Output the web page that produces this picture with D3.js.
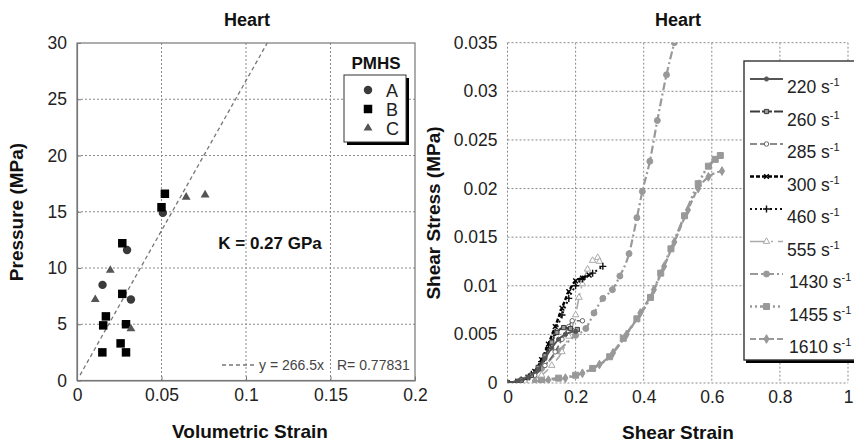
<!DOCTYPE html>
<html><head><meta charset="utf-8">
<script src="https://cdn.jsdelivr.net/npm/d3@7"></script>
<style>
body{margin:0;background:#fff}
svg{display:block;font-family:"Liberation Sans",Arial,Helvetica,sans-serif}
</style>
</head><body>
<svg id="chart" width="854" height="442"></svg>
<script>
// ---- Left panel: pressure vs volumetric strain (PMHS A, B, C) ----
const pmhsAStrain   = [0.0508, 0.0296, 0.0151, 0.0319];
const pmhsAPressure = [14.9, 11.6, 8.5, 7.2];
const pmhsBStrain   = [0.0520, 0.0500, 0.0268, 0.0268, 0.0171, 0.0155, 0.0290, 0.0258, 0.0290, 0.0150];
const pmhsBPressure = [16.6, 15.4, 12.2, 7.7, 5.7, 4.9, 5.0, 3.3, 2.5, 2.5];
const pmhsCStrain   = [0.0646, 0.0758, 0.0197, 0.0108, 0.0319];
const pmhsCPressure = [16.3, 16.5, 9.8, 7.2, 4.6];
const fitSlope = 266.5;
const fitR = 0.77831;
const volTicks = [0, 0.05, 0.1, 0.15, 0.2];
const volTickLabels = ["0", "0.05", "0.1", "0.15", "0.2"];
const pressTicks = [0, 5, 10, 15, 20, 25, 30];
const pmhsNames = ["A", "B", "C"];

// ---- Right panel: shear stress vs shear strain per strain rate ----
const rateNames = ["220", "260", "285", "300", "460", "555", "1430", "1455", "1610"];
const strain220 = [0, 0.03, 0.06, 0.09, 0.11, 0.13, 0.15, 0.17, 0.20];
const stress220 = [0, 0.0002, 0.0006, 0.0014, 0.0025, 0.0036, 0.0045, 0.0050, 0.0053];
const strain260 = [0, 0.04, 0.07, 0.09, 0.11, 0.13, 0.145, 0.165, 0.185, 0.205];
const stress260 = [0, 0.0003, 0.0008, 0.0016, 0.0028, 0.0042, 0.0052, 0.0057, 0.0056, 0.0055];
const strain285 = [0, 0.04, 0.08, 0.11, 0.14, 0.16, 0.18, 0.19, 0.22];
const stress285 = [0, 0.0002, 0.0008, 0.0018, 0.0032, 0.0045, 0.0058, 0.0064, 0.0064];
const strain300 = [0, 0.03, 0.06, 0.08, 0.10, 0.12, 0.14, 0.16, 0.18, 0.20, 0.22, 0.24];
const stress300 = [0, 0.0002, 0.0006, 0.0012, 0.0024, 0.0040, 0.0058, 0.0077, 0.0094, 0.0105, 0.0108, 0.0111];
const strain460 = [0, 0.04, 0.07, 0.10, 0.12, 0.14, 0.16, 0.18, 0.20, 0.22, 0.25, 0.28];
const stress460 = [0, 0.0003, 0.0009, 0.0022, 0.0036, 0.0052, 0.0070, 0.0087, 0.0100, 0.0107, 0.0113, 0.0120];
const strain555 = [0, 0.05, 0.10, 0.13, 0.16, 0.18, 0.20, 0.21, 0.22, 0.235, 0.25, 0.265, 0.27];
const stress555 = [0, 0.0002, 0.0008, 0.0018, 0.0032, 0.0048, 0.0070, 0.0088, 0.0102, 0.0117, 0.0126, 0.0129, 0.0125];
const strain1430 = [0, 0.05, 0.10, 0.15, 0.20, 0.23, 0.254, 0.28, 0.308, 0.33, 0.357, 0.38, 0.396, 0.418, 0.44, 0.467, 0.49];
const stress1430 = [0, 0.0003, 0.0015, 0.0033, 0.0049, 0.0056, 0.0072, 0.0087, 0.0096, 0.0110, 0.0133, 0.0170, 0.0197, 0.0228, 0.0270, 0.0317, 0.0350];
const strain1455 = [0.10, 0.15, 0.20, 0.25, 0.30, 0.34, 0.38, 0.42, 0.45, 0.48, 0.52, 0.56, 0.59, 0.61, 0.625];
const stress1455 = [0.0003, 0.0005, 0.0008, 0.0015, 0.0027, 0.0046, 0.0066, 0.0088, 0.0113, 0.0138, 0.0172, 0.0205, 0.0223, 0.0230, 0.0234];
const strain1610 = [0.08, 0.12, 0.17, 0.22, 0.27, 0.31, 0.35, 0.39, 0.43, 0.46, 0.49, 0.53, 0.56, 0.59, 0.63];
const stress1610 = [0.0002, 0.0003, 0.0005, 0.0010, 0.0019, 0.0031, 0.0050, 0.0072, 0.0096, 0.0120, 0.0145, 0.0178, 0.0200, 0.0212, 0.0218];
const shearStrainTicks = [0, 0.2, 0.4, 0.6, 0.8, 1];
const shearStrainTickLabels = ["0", "0.2", "0.4", "0.6", "0.8", "1"];
const shearStressTicks = [0, 0.005, 0.01, 0.015, 0.02, 0.025, 0.03, 0.035];
const shearStressTickLabels = ["0", "0.005", "0.01", "0.015", "0.02", "0.025", "0.03", "0.035"];

const svg = d3.select("#chart");
const zip = (xs, ys) => xs.map((x, i) => [x, ys[i]]);
const TICK_FONT = 17.5;

// ================= Left panel =================
const L = {left: 77, right: 415, top: 43, bottom: 380.5};
const xL = d3.scaleLinear().domain([0, 0.2]).range([L.left, L.right]);
const yL = d3.scaleLinear().domain([0, 30]).range([L.bottom, L.top]);
const gL = svg.append("g");

// dotted grid
gL.append("g").selectAll("line").data(volTicks.slice(1, -1)).join("line")
  .attr("x1", d => xL(d)).attr("x2", d => xL(d)).attr("y1", L.top).attr("y2", L.bottom)
  .attr("stroke", "#8a8a8a").attr("stroke-width", 1).attr("stroke-dasharray", "2,2");
gL.append("g").selectAll("line").data(pressTicks.slice(1, -1)).join("line")
  .attr("y1", d => yL(d)).attr("y2", d => yL(d)).attr("x1", L.left).attr("x2", L.right)
  .attr("stroke", "#8a8a8a").attr("stroke-width", 1).attr("stroke-dasharray", "2,2");
// frame
gL.append("rect").attr("x", L.left).attr("y", L.top)
  .attr("width", L.right - L.left).attr("height", L.bottom - L.top)
  .attr("fill", "none").attr("stroke", "#777").attr("stroke-width", 1.2);

// axes
const axLX = d3.axisBottom(xL).tickValues(volTicks).tickFormat((d, i) => volTickLabels[i])
  .tickSizeInner(-4).tickSizeOuter(0).tickPadding(8);
const axLY = d3.axisLeft(yL).tickValues(pressTicks).tickFormat(d3.format("d"))
  .tickSizeInner(-4).tickSizeOuter(0).tickPadding(10);
[gL.append("g").attr("transform", `translate(0,${L.bottom})`).call(axLX),
 gL.append("g").attr("transform", `translate(${L.left},0)`).call(axLY)].forEach(a => {
  a.select(".domain").attr("stroke", "#777").attr("stroke-width", 1.2);
  a.selectAll(".tick line").attr("stroke", "#777");
  a.selectAll(".tick text").attr("font-size", TICK_FONT).attr("fill", "#222")
    .attr("font-family", '"Liberation Sans",Arial,sans-serif');
});

// fit line y = 266.5 x
const fitX = [0.0018, 30 / fitSlope];
gL.append("line")
  .attr("x1", xL(fitX[0])).attr("y1", yL(fitSlope * fitX[0]))
  .attr("x2", xL(fitX[1])).attr("y2", yL(fitSlope * fitX[1]))
  .attr("stroke", "#777").attr("stroke-width", 1.3).attr("stroke-dasharray", "4,3");

// markers
const symCircle = d3.symbol().type(d3.symbolCircle).size(56);
const symSquare = d3.symbol().type(d3.symbolSquare).size(72);
const symTri = d3.symbol().type(d3.symbolTriangle).size(34);
function plotPts(xs, ys, sym, fill) {
  gL.append("g").selectAll("path").data(zip(xs, ys)).join("path")
    .attr("transform", d => `translate(${xL(d[0])},${yL(d[1])})`)
    .attr("d", sym).attr("fill", fill);
}
plotPts(pmhsAStrain, pmhsAPressure, symCircle, "#3a3a3a");
plotPts(pmhsBStrain, pmhsBPressure, symSquare, "#000");
plotPts(pmhsCStrain, pmhsCPressure, symTri, "#555");

// annotations
gL.append("text").attr("x", 270).attr("y", 249).attr("text-anchor", "middle")
  .attr("font-size", 17).attr("font-weight", "bold").attr("fill", "#111").text("K = 0.27 GPa");
gL.append("line").attr("x1", 222).attr("x2", 257).attr("y1", 365).attr("y2", 365)
  .attr("stroke", "#777").attr("stroke-width", 1.3).attr("stroke-dasharray", "4,3");
gL.append("text").attr("x", 259).attr("y", 370).attr("font-size", 14).attr("fill", "#444")
  .text(`y = ${fitSlope}x`);
gL.append("text").attr("x", 337).attr("y", 370).attr("font-size", 14).attr("fill", "#444")
  .text(`R= ${fitR}`);

// legend
gL.append("text").attr("x", 376).attr("y", 69).attr("text-anchor", "middle")
  .attr("font-size", 17).attr("font-weight", "bold").attr("fill", "#111").text("PMHS");
gL.append("rect").attr("x", 347).attr("y", 78).attr("width", 62).attr("height", 67).attr("fill", "#000");
gL.append("rect").attr("x", 344).attr("y", 75).attr("width", 62).attr("height", 67)
  .attr("fill", "#fff").attr("stroke", "#333").attr("stroke-width", 1);
const legSyms = [[symCircle, "#3a3a3a"], [symSquare, "#000"], [symTri, "#555"]];
pmhsNames.forEach((n, i) => {
  const y = 90 + i * 19;
  gL.append("path").attr("transform", `translate(368,${y})`).attr("d", legSyms[i][0]).attr("fill", legSyms[i][1]);
  gL.append("text").attr("x", 386).attr("y", y + 6.5).attr("font-size", 18).attr("fill", "#222").text(n);
});

// titles
gL.append("text").attr("x", 247).attr("y", 26).attr("text-anchor", "middle")
  .attr("font-size", 18).attr("font-weight", "bold").attr("fill", "#111").text("Heart");
gL.append("text").attr("x", 250).attr("y", 438).attr("text-anchor", "middle")
  .attr("font-size", 19).attr("font-weight", "bold").attr("fill", "#111").text("Volumetric Strain");
gL.append("text").attr("transform", "translate(23,212) rotate(-90)").attr("text-anchor", "middle")
  .attr("font-size", 19).attr("font-weight", "bold").attr("fill", "#111").text("Pressure (MPa)");

// ================= Right panel =================
const R = {left: 507.5, right: 848, top: 42.7, bottom: 383};
const xR = d3.scaleLinear().domain([0, 1]).range([R.left, R.right]);
const yR = d3.scaleLinear().domain([0, 0.035]).range([R.bottom, R.top]);
const gR = svg.append("g");

gR.append("g").selectAll("line").data(shearStrainTicks).join("line")
  .attr("x1", d => xR(d)).attr("x2", d => xR(d)).attr("y1", R.top).attr("y2", R.bottom)
  .attr("stroke", "#8a8a8a").attr("stroke-width", 1).attr("stroke-dasharray", "2,2");
gR.append("g").selectAll("line").data(shearStressTicks).join("line")
  .attr("y1", d => yR(d)).attr("y2", d => yR(d)).attr("x1", R.left).attr("x2", R.right)
  .attr("stroke", "#8a8a8a").attr("stroke-width", 1).attr("stroke-dasharray", "2,2");

const axRX = d3.axisBottom(xR).tickValues(shearStrainTicks).tickFormat((d, i) => shearStrainTickLabels[i])
  .tickSize(0).tickPadding(8);
const axRY = d3.axisLeft(yR).tickValues(shearStressTicks).tickFormat((d, i) => shearStressTickLabels[i])
  .tickSize(0).tickPadding(10);
[gR.append("g").attr("transform", `translate(0,${R.bottom})`).call(axRX),
 gR.append("g").attr("transform", `translate(${R.left},0)`).call(axRY)].forEach(a => {
  a.select(".domain").remove();
  a.selectAll(".tick text").attr("font-size", TICK_FONT).attr("fill", "#222")
    .attr("font-family", '"Liberation Sans",Arial,sans-serif');
});

gR.append("clipPath").attr("id", "plotR").append("rect")
  .attr("x", R.left).attr("y", R.top).attr("width", R.right - R.left).attr("height", R.bottom - R.top);

// series styles
const seriesStyle = {
  "220":  {color: "#555", width: 1.8, dash: null,            mark: "circle", mfill: "#555", size: 14},
  "260":  {color: "#3a3a3a", width: 2, dash: "10,2",       mark: "square", mfill: "#999", size: 18},
  "285":  {color: "#666", width: 1.6, dash: "7,3",          mark: "circle", mfill: "#fff", size: 16},
  "300":  {color: "#000", width: 2.4, dash: "4,2",          mark: "cross",  mfill: "#000", size: 16},
  "460":  {color: "#111", width: 2, dash: "2,3",            mark: "plus",   mfill: "#000", size: 18},
  "555":  {color: "#aaa", width: 1.6, dash: "16,5,2,5",     mark: "triangle", mfill: "#fff", size: 18},
  "1430": {color: "#999", width: 2.2, dash: "8,3,2,3",      mark: "circle", mfill: "#999", size: 28},
  "1455": {color: "#999", width: 2.6, dash: "2,3,2,3,10,3", mark: "square", mfill: "#999", size: 36},
  "1610": {color: "#999", width: 2.2, dash: "6,3",          mark: "diamond", mfill: "#999", size: 22}
};
const seriesData = {
  "220": zip(strain220, stress220), "260": zip(strain260, stress260),
  "285": zip(strain285, stress285), "300": zip(strain300, stress300),
  "460": zip(strain460, stress460), "555": zip(strain555, stress555),
  "1430": zip(strain1430, stress1430), "1455": zip(strain1455, stress1455),
  "1610": zip(strain1610, stress1610)
};
const symTypes = {circle: d3.symbolCircle, square: d3.symbolSquare, cross: d3.symbolTimes,
  plus: d3.symbolPlus, triangle: d3.symbolTriangle, diamond: d3.symbolDiamond};
function markerPath(st) {
  return d3.symbol().type(symTypes[st.mark]).size(st.size)();
}
function markerAttrs(sel, st) {
  const stroked = st.mark === "cross" || st.mark === "plus";
  sel.attr("d", markerPath(st))
    .attr("fill", stroked ? "none" : st.mfill)
    .attr("stroke", st.color).attr("stroke-width", stroked ? 1.4 : 1);
}

const lineGen = d3.line().x(d => xR(d[0])).y(d => yR(d[1])).curve(d3.curveMonotoneX);
const plotG = gR.append("g").attr("clip-path", "url(#plotR)");
// draw later series first so the dark low-rate curves sit on top
rateNames.slice().reverse().forEach(r => {
  const st = seriesStyle[r], data = seriesData[r];
  plotG.append("path").datum(data).attr("d", lineGen).attr("fill", "none")
    .attr("stroke", st.color).attr("stroke-width", st.width)
    .attr("stroke-dasharray", st.dash);
  plotG.append("g").selectAll("path").data(data).join("path")
    .attr("transform", d => `translate(${xR(d[0])},${yR(d[1])})`)
    .call(markerAttrs, st);
});

// legend
gR.append("rect").attr("x", 746).attr("y", 63).attr("width", 120).attr("height", 300).attr("fill", "#000");
gR.append("rect").attr("x", 744).attr("y", 61).attr("width", 120).attr("height", 299)
  .attr("fill", "#fff").attr("stroke", "#333").attr("stroke-width", 1.4);
rateNames.forEach((r, i) => {
  const st = seriesStyle[r];
  const yLine = 79 + i * 32.5;
  const lg = gR.append("g");
  lg.append("line").attr("x1", 750).attr("x2", 783).attr("y1", yLine).attr("y2", yLine)
    .attr("stroke", st.color).attr("stroke-width", st.width).attr("stroke-dasharray", st.dash);
  lg.append("path").attr("transform", `translate(766.5,${yLine})`).call(markerAttrs, st);
  const t = lg.append("text").attr("x", r.length > 3 ? 789 : 787).attr("y", yLine + 14)
    .attr("font-size", 17.5).attr("fill", "#222");
  t.append("tspan").text(`${r} s`);
  t.append("tspan").attr("dy", -7).attr("font-size", 11).text("-1");
});

gR.append("text").attr("x", 678).attr("y", 26).attr("text-anchor", "middle")
  .attr("font-size", 18).attr("font-weight", "bold").attr("fill", "#111").text("Heart");
gR.append("text").attr("x", 678).attr("y", 439).attr("text-anchor", "middle")
  .attr("font-size", 19).attr("font-weight", "bold").attr("fill", "#111").text("Shear Strain");
gR.append("text").attr("transform", "translate(440,213) rotate(-90)").attr("text-anchor", "middle")
  .attr("font-size", 19).attr("font-weight", "bold").attr("fill", "#111").text("Shear Stress (MPa)");
</script>
</body></html>
